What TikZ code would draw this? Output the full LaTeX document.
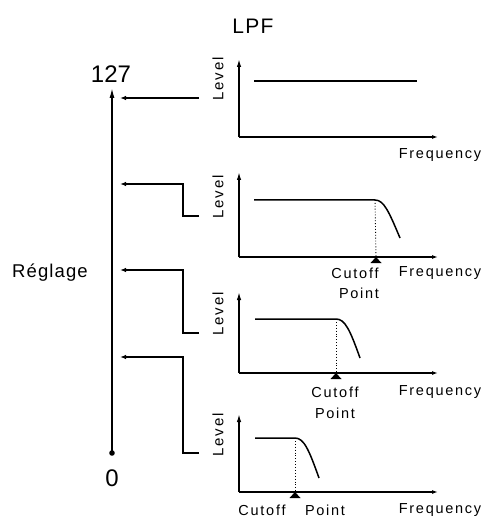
\documentclass[tikz,border=0pt]{standalone}
\usepackage{fontspec}
\setmainfont{Liberation Sans}
\newfontfamily\labfont[LetterSpace=12]{Liberation Sans}
\newfontfamily\bigfont[LetterSpace=6]{Liberation Sans}
\usetikzlibrary{arrows.meta}
\begin{document}
\begin{tikzpicture}[x=1pt,y=-1pt,
  mainaxis/.style={line width=1.5pt,-{Latex[length=10pt,width=5pt]}},
  gaxis/.style={line width=1.4pt,-{Latex[length=8pt,width=4.5pt]}},
  faxis/.style={line width=1.4pt,-{Latex[length=6pt,width=4pt]}},
  feed/.style={line width=1.2pt,-{Latex[length=6pt,width=4.5pt]}},
  lvl/.style={line width=1.5pt},
  cut/.style={line width=0.9pt,dotted},
  lbl/.style={font=\labfont\fontsize{14.5}{14.5}\selectfont,inner sep=0pt},
  lev/.style={font=\labfont\fontsize{15}{15}\selectfont,inner sep=0pt,rotate=90},
  big/.style={font=\bigfont\fontsize{18.5}{18.5}\selectfont,inner sep=0pt},
  ttl/.style={font=\bigfont\fontsize{21}{21}\selectfont,inner sep=0pt},
  num/.style={font=\fontsize{24}{24}\selectfont,inner sep=0pt},
  cutmark/.style={fill=black}
]
\useasboundingbox (0,0) rectangle (495,526);

% title
\node[ttl] (lpf) at (253,26) {LPF};

% main axis
\coordinate (bot) at (112,453);
\coordinate (top) at (112,88);
\draw[mainaxis] (bot) -- (top);
\fill (bot) circle (2.8pt);
\node[num] (n127) at (111,74) {127};
\node[num] (n0) at (112,478) {0};
\node[big] (reg) at (50,273) {Réglage};

% feed arrows
\coordinate (a1s) at (199,98);  \coordinate (a1e) at (120,98);
\coordinate (a2s) at (199,216); \coordinate (a2k) at (183,216); \coordinate (a2m) at (183,184); \coordinate (a2e) at (120,184);
\coordinate (a3s) at (199,333); \coordinate (a3k) at (183,333); \coordinate (a3m) at (183,270); \coordinate (a3e) at (120,270);
\coordinate (a4s) at (199,453); \coordinate (a4k) at (183,453); \coordinate (a4m) at (183,357); \coordinate (a4e) at (120,357);
\draw[feed] (a1s) -- (a1e);
\draw[feed] (a2s) -- (a2k) -- (a2m) -- (a2e);
\draw[feed] (a3s) -- (a3k) -- (a3m) -- (a3e);
\draw[feed] (a4s) -- (a4k) -- (a4m) -- (a4e);

% graph 1
\coordinate (o1) at (239,137); \coordinate (t1) at (239,59); \coordinate (r1) at (438,137);
\draw[gaxis] (o1) -- (t1);
\draw[faxis] (o1) -- (r1);
\coordinate (l1s) at (254,81); \coordinate (l1e) at (417,81);
\draw[lvl] (l1s) -- (l1e);
\node[lev] (lev1) at (218,79) {Level};
\node[lbl] (f1) at (440,155) {Frequency};

% graph 2
\coordinate (o2) at (239,257); \coordinate (t2) at (239,172); \coordinate (r2) at (438,257);
\draw[gaxis] (o2) -- (t2);
\draw[faxis] (o2) -- (r2);
\coordinate (l2s) at (254,200); \coordinate (l2k) at (375,200); \coordinate (l2e) at (400,238);
\draw[lvl] (l2s) -- (l2k) .. controls (384,200) and (389,212) .. (l2e);
\coordinate (c2) at (376,257);
\draw[cut] (l2k) -- (c2);
\fill[cutmark] (c2) -- ++(-5.5,6) -- ++(11,0) -- cycle;
\node[lev] (lev2) at (218,197) {Level};
\node[lbl] (cut2) at (355,273) {Cutoff};
\node[lbl] (pt2) at (359,293) {Point};
\node[lbl] (f2) at (440,273) {Frequency};

% graph 3
\coordinate (o3) at (239,373); \coordinate (t3) at (239,292); \coordinate (r3) at (438,373);
\draw[gaxis] (o3) -- (t3);
\draw[faxis] (o3) -- (r3);
\coordinate (l3s) at (255,319); \coordinate (l3k) at (336,319); \coordinate (l3e) at (360,358);
\draw[lvl] (l3s) -- (l3k) .. controls (345,319) and (350,330) .. (l3e);
\coordinate (c3) at (336,373);
\draw[cut] (l3k) -- (c3);
\fill[cutmark] (c3) -- ++(-5.5,6) -- ++(11,0) -- cycle;
\node[lev] (lev3) at (218,314) {Level};
\node[lbl] (cut3) at (335,392) {Cutoff};
\node[lbl] (pt3) at (335,413) {Point};
\node[lbl] (f3) at (440,392) {Frequency};

% graph 4
\coordinate (o4) at (239,492); \coordinate (t4) at (239,414); \coordinate (r4) at (438,492);
\draw[gaxis] (o4) -- (t4);
\draw[faxis] (o4) -- (r4);
\coordinate (l4s) at (255,438); \coordinate (l4k) at (295,438); \coordinate (l4e) at (319,478);
\draw[lvl] (l4s) -- (l4k) .. controls (304,438) and (309,450) .. (l4e);
\coordinate (c4) at (295,492);
\draw[cut] (l4k) -- (c4);
\fill[cutmark] (c4) -- ++(-5.5,6) -- ++(11,0) -- cycle;
\node[lev] (lev4) at (218,435) {Level};
\node[lbl] (cut4) at (262,510) {Cutoff};
\node[lbl] (pt4) at (325,510) {Point};
\node[lbl] (f4) at (440,510) {Frequency};
\end{tikzpicture}
\end{document}
